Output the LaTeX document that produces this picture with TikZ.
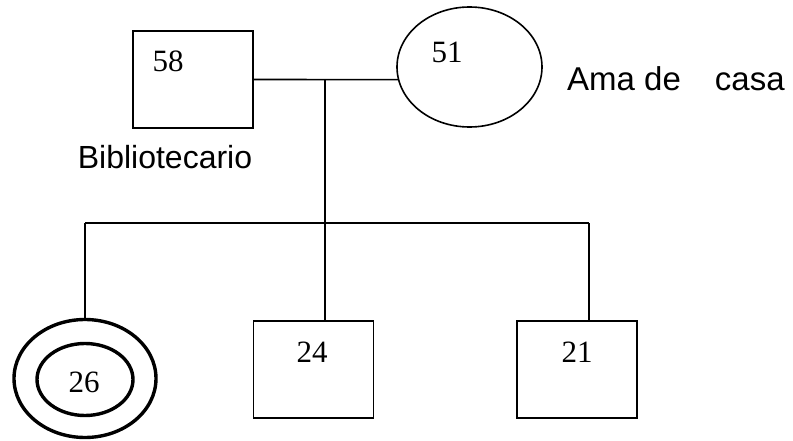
\documentclass[tikz,border=0pt]{standalone}
\usepackage{fontspec}
\setmainfont{Liberation Sans}
\newfontfamily\numfont{Liberation Serif}
\usetikzlibrary{shapes.geometric}
\begin{document}
\begin{tikzpicture}[x=1pt,y=-1pt,
  thinline/.style={line width=1.6pt},
  malebox/.style={draw,thinline,rectangle,minimum width=120pt,minimum height=97pt,inner sep=0pt},
  femring/.style={draw,ellipse,inner sep=0pt},
  numtxt/.style={font=\fontsize{31}{36}\selectfont\numfont,anchor=base,inner sep=0pt},
  sanstxt/.style={font=\fontsize{32}{38}\selectfont,anchor=base,inner sep=0pt}]
\useasboundingbox (0,0) rectangle (793,441);
% shapes
\node[malebox] (b58) at (193,79.5) {};
\node[femring,thinline,minimum width=145pt,minimum height=120pt] (e51) at (469.5,67) {};
\node[malebox] (b24) at (313.5,369.5) {};
\node[malebox] (b21) at (577,369.5) {};
\node[femring,line width=3.4pt,minimum width=142pt,minimum height=118pt] (e26o) at (85,378.5) {};
\node[femring,line width=3.4pt,minimum width=96pt,minimum height=72pt] (e26i) at (85,379.5) {};
% texts
\node[numtxt] (t58) at (168,72) {58};
\node[numtxt] (t51) at (447,63) {51};
\node[numtxt] (t24) at (312,362) {24};
\node[numtxt] (t21) at (577,362) {21};
\node[numtxt] (t26) at (84,392) {26};
\node[sanstxt] (tbib) at (165,168) {Bibliotecario};
\node[sanstxt,font=\fontsize{33}{38}\selectfont,anchor=base west] (tama) at (567,91) {Ama de\hspace{34pt}casa};
% connectors
\coordinate (m) at (325,79.5);
\coordinate (s1) at (85,223);
\coordinate (s2) at (325,223);
\coordinate (s3) at (589,223);
\draw[thinline] (b58.east) -- (e51.190);
\draw[thinline] (m) -- (s2);
\draw[thinline] (s1) -- (s3);
\draw[thinline] (s1) -- (e26o.north);
\draw[thinline] (s2) -- (s2 |- b24.north);
\draw[thinline] (s3) -- (s3 |- b21.north);
\end{tikzpicture}
\end{document}
